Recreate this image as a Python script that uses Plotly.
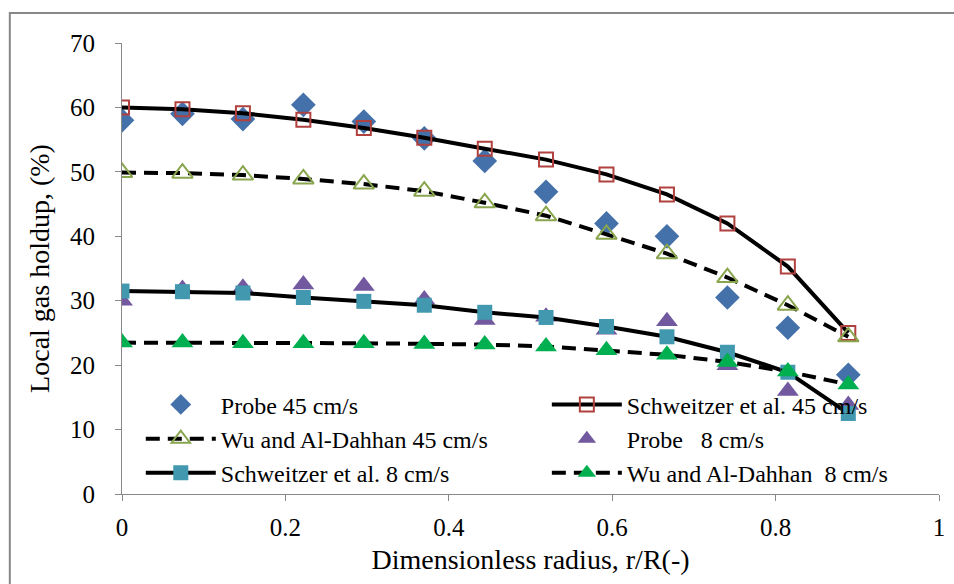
import plotly.graph_objects as go

x = [0, 0.074, 0.148, 0.222, 0.296, 0.370, 0.444, 0.519, 0.593, 0.667, 0.741, 0.815, 0.889]

probe_45 = [58.0, 59.0, 58.2, 60.4, 57.8, 55.2, 51.7, 46.9, 42.0, 40.0, 30.5, 25.8, 18.5]
schweitzer_45 = [60.0, 59.7, 59.1, 58.1, 56.8, 55.3, 53.6, 51.9, 49.6, 46.5, 42.0, 35.3, 25.0]
wu_45 = [49.9, 49.8, 49.5, 48.9, 48.1, 47.0, 45.2, 43.2, 40.3, 37.3, 33.6, 29.3, 24.4]
probe_8 = [30.0, 31.8, 32.0, 32.5, 32.3, 30.2, 27.0, 27.5, 25.5, 26.8, 20.0, 16.0, 13.8]
schweitzer_8 = [31.5, 31.4, 31.2, 30.5, 29.9, 29.3, 28.2, 27.4, 26.0, 24.4, 22.0, 18.9, 12.5]
wu_8 = [23.5, 23.5, 23.4, 23.4, 23.4, 23.3, 23.2, 22.9, 22.3, 21.6, 20.5, 19.0, 17.0]

names = ["Probe 45 cm/s", "Schweitzer et al. 45 cm/s", "Wu and Al-Dahhan 45 cm/s",
         "Probe\u00a0\u00a0 8 cm/s", "Schweitzer et al. 8 cm/s", "Wu and Al-Dahhan\u00a0 8 cm/s"]

x_ticks = [0, 0.2, 0.4, 0.6, 0.8, 1]
x_tick_text = ["0", "0.2", "0.4", "0.6", "0.8", "1"]
y_ticks = [0, 10, 20, 30, 40, 50, 60, 70]

FONT = "Liberation Serif"

fig = go.Figure()
fig.add_trace(go.Scatter(x=x, y=probe_45, mode="markers", name=names[0], legend="legend",
                         marker=dict(symbol="diamond", size=19, color="#4571AA")))
fig.add_trace(go.Scatter(x=x, y=schweitzer_45, mode="lines+markers", name=names[1], legend="legend2",
                         line=dict(color="black", width=4),
                         marker=dict(symbol="square-open", size=14, color="#B0413E",
                                     line=dict(width=2, color="#B0413E"))))
fig.add_trace(go.Scatter(x=x, y=wu_45, mode="lines+markers", name=names[2], legend="legend",
                         line=dict(color="black", width=4, dash="14px,8px"),
                         marker=dict(symbol="triangle-up-open", size=18, color="#89A54E",
                                     line=dict(width=2, color="#89A54E"))))
fig.add_trace(go.Scatter(x=x, y=probe_8, mode="markers", name=names[3], legend="legend2",
                         marker=dict(symbol="triangle-up", size=19, color="#71589F")))
fig.add_trace(go.Scatter(x=x, y=schweitzer_8, mode="lines+markers", name=names[4], legend="legend",
                         line=dict(color="black", width=4),
                         marker=dict(symbol="square", size=15, color="#4198AF")))
fig.add_trace(go.Scatter(x=x, y=wu_8, mode="lines+markers", name=names[5], legend="legend2",
                         line=dict(color="black", width=4, dash="14px,8px"),
                         marker=dict(symbol="triangle-up", size=19, color="#00B050")))

legend_common = dict(orientation="v", yanchor="bottom", xanchor="left",
                     bgcolor="rgba(0,0,0,0)", itemwidth=70, tracegroupgap=0,
                     font=dict(family=FONT, size=24, color="black"), traceorder="normal")

fig.update_layout(
    width=954, height=584,
    margin=dict(l=122, r=9, t=43, b=90),
    paper_bgcolor="white", plot_bgcolor="white",
    font=dict(family=FONT, size=25, color="black"),
    showlegend=True,
    legend=dict(x=0.023, y=-0.003, **legend_common),
    legend2=dict(x=0.52, y=-0.003, **legend_common),
    xaxis=dict(range=[0, 1], tickvals=x_ticks, ticktext=x_tick_text,
               showgrid=False, zeroline=False, showline=True, linecolor="#888888",
               linewidth=1, ticks="outside", ticklen=6, tickcolor="#888888",
               ticklabelstandoff=5,
               title=dict(text="Dimensionless radius, r/R(-)", standoff=9,
                          font=dict(family=FONT, size=28)),
               tickfont=dict(family=FONT, size=25)),
    yaxis=dict(range=[0, 70], tickvals=y_ticks,
               showgrid=False, zeroline=False, showline=True, linecolor="#888888",
               linewidth=1, ticks="outside", ticklen=6, tickcolor="#888888",
               ticklabelstandoff=15,
               title=dict(text="Local gas holdup, (%)", standoff=12,
                          font=dict(family=FONT, size=28)),
               tickfont=dict(family=FONT, size=25)),
    shapes=[dict(type="rect", xref="paper", yref="paper",
                 x0=-113/823, x1=1 + 20/823, y0=-100/451, y1=1 + 30/451,
                 line=dict(color="#888888", width=2), layer="below")],
)

fig.write_html("out.html")
